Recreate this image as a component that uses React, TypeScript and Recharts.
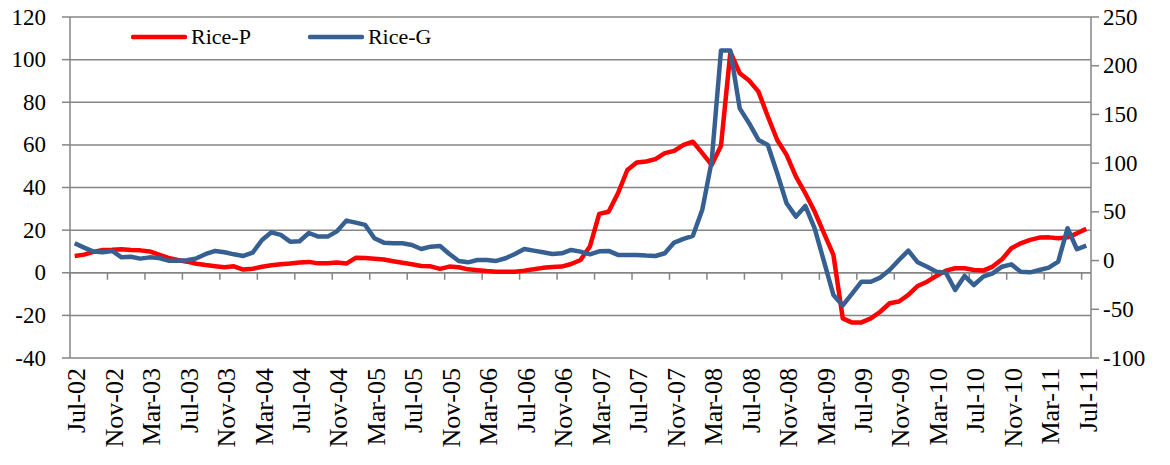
import React from "react";
import {
  LineChart,
  Line,
  XAxis,
  YAxis,
  CartesianGrid,
  Legend,
  ReferenceLine,
} from "recharts";

const MONTH_NAMES = ["Jan", "Feb", "Mar", "Apr", "May", "Jun", "Jul", "Aug", "Sep", "Oct", "Nov", "Dec"];

// Monthly categories Jul-02 .. Jul-11
const months: string[] = [];
for (let k = 0; k < 109; k++) {
  const m = (6 + k) % 12;
  const y = 2002 + Math.floor((6 + k) / 12);
  months.push(`${MONTH_NAMES[m]}-${String(y % 100).padStart(2, "0")}`);
}

const ricePValues = [
  7.9, 8.5, 9.8, 10.7, 10.8, 11.0, 10.7, 10.5, 10.0, 8.5, 7.0, 6.0, 5.2, 4.2, 3.6, 3.1,
  2.6, 3.0, 1.5, 1.9, 2.8, 3.5, 4.0, 4.3, 4.8, 5.1, 4.4, 4.5, 4.8, 4.3, 7.0, 6.9,
  6.6, 6.2, 5.4, 4.7, 4.0, 3.2, 3.0, 1.8, 2.9, 2.6, 1.6, 1.2, 0.8, 0.5, 0.5, 0.5,
  1.0, 1.6, 2.3, 2.7, 2.9, 4.1, 6.0, 12.3, 27.6, 28.6, 37.3, 48.2, 51.7, 52.2, 53.3, 56.1,
  57.2, 60.0, 61.5, 56.1, 50.6, 59.6, 103.6, 93.6, 90.2, 85.0, 73.3, 62.3, 55.3, 45.1, 37.3, 28.7,
  18.5, 8.4, -21.4, -23.4, -23.3, -21.4, -18.3, -14.3, -13.5, -10.4, -6.2, -4.2, -1.5, 1.0, 2.1, 2.1,
  1.3, 1.0, 2.9, 6.3, 11.5, 13.8, 15.4, 16.5, 16.6, 16.2, 16.6, 18.5, 20.6,
];

const riceGValues = [
  17.8, 13.3, 9.2, 8.5, 9.9, 3.3, 4.0, 2.0, 3.3, 2.6, -0.1, -0.1, 0.3, 2.3, 6.8, 9.9,
  8.5, 6.4, 4.7, 8.1, 21.1, 29.0, 26.3, 19.4, 19.8, 28.3, 24.6, 24.6, 30.0, 41.0, 38.9, 36.6,
  22.9, 18.4, 17.7, 17.7, 16.0, 11.9, 14.3, 15.0, 6.8, -0.4, -1.8, 0.6, 0.6, -0.4, 2.4, 6.8,
  11.9, 10.2, 8.5, 6.8, 7.5, 10.9, 9.2, 6.4, 9.5, 9.9, 5.8, 5.8, 5.8, 5.1, 4.7, 7.5,
  18.5, 22.3, 25.4, 52.1, 101.5, 215.5, 215.5, 156.2, 141.0, 123.8, 118.7, 89.6, 58.8, 45.1, 56.1, 33.1,
  -1.1, -35.3, -46.0, -34.0, -21.7, -21.7, -17.5, -9.7, 0.6, 10.2, -1.8, -6.3, -11.4, -12.4, -30.2, -15.8,
  -25.1, -16.5, -13.1, -6.3, -3.9, -11.4, -12.1, -9.7, -7.3, -1.1, 33.2, 11.6, 15.3,
];

const leftTicks = [-40, -20, 0, 20, 40, 60, 80, 100, 120];
const rightTicks = [-100, -50, 0, 50, 100, 150, 200, 250];

const data = months.map((month, i) => ({
  month,
  riceP: ricePValues[i],
  riceG: riceGValues[i],
}));

const FONT = "'Liberation Serif', 'Times New Roman', serif";
const AXIS_GRAY = "#868686";
const RED = "#FF0000";
const BLUE = "#376092";

const XTick = (props: any) => {
  const { x, y, payload } = props;
  return (
    <text
      x={0}
      y={0}
      transform={`translate(${x + 2},${y + 2}) rotate(-90)`}
      textAnchor="end"
      dominantBaseline="central"
      style={{ fontFamily: FONT, fontSize: 26 }}
      fill="#000"
    >
      {payload.value}
    </text>
  );
};

const LeftTick = (props: any) => {
  const { x, y, payload } = props;
  return (
    <text x={x} y={y} textAnchor="end" dominantBaseline="central" style={{ fontFamily: FONT, fontSize: 23 }} fill="#000">
      {payload.value}
    </text>
  );
};

const RightTick = (props: any) => {
  const { x, y, payload } = props;
  return (
    <text x={x} y={y} textAnchor="start" dominantBaseline="central" style={{ fontFamily: FONT, fontSize: 23 }} fill="#000">
      {payload.value}
    </text>
  );
};

// Zero line with category-axis tick marks every 4 months (between categories)
const ZeroAxisShape = (props: any) => {
  const { x1, y1, x2 } = props;
  const n = months.length;
  const step = (x2 - x1) / n;
  const marks = [];
  for (let k = 0; k <= n; k += 4) {
    const xx = x1 + k * step;
    marks.push(<line key={k} x1={xx} x2={xx} y1={y1} y2={y1 + 7} stroke={AXIS_GRAY} strokeWidth={1.5} />);
  }
  return (
    <g>
      <line x1={x1} x2={x2} y1={y1} y2={y1} stroke={AXIS_GRAY} strokeWidth={1.5} />
      {marks}
    </g>
  );
};

const LegendContent = () => (
  <div style={{ display: "flex", alignItems: "center", fontFamily: FONT, fontSize: 22, color: "#000" }}>
    {[
      { name: "Rice-P", color: RED },
      { name: "Rice-G", color: BLUE },
    ].map((it, idx) => (
      <div key={it.name} style={{ display: "flex", alignItems: "center", marginRight: idx === 0 ? 57 : 0 }}>
        <svg width={56} height={10} style={{ marginRight: 4 }}>
          <line x1={2} x2={54} y1={5} y2={5} stroke={it.color} strokeWidth={4.5} strokeLinecap="round" />
        </svg>
        <span style={{ lineHeight: "24px" }}>{it.name}</span>
      </div>
    ))}
  </div>
);

export default function App() {
  return (
    <div style={{ position: "absolute", left: 0, top: 0 }}>
      <LineChart
        width={1170}
        height={465}
        data={data}
        margin={{ top: 17, right: 0, bottom: 0, left: 0 }}
      >
        <CartesianGrid vertical={false} stroke={AXIS_GRAY} strokeWidth={1.5} yAxisId="left" />
        <XAxis
          dataKey="month"
          interval={3}
          tickLine={false}
          axisLine={false}
          height={107}
          padding={{ left: 4.7, right: 4.7 }}
          tick={<XTick />}
        />
        <YAxis
          yAxisId="left"
          domain={[-40, 120]}
          ticks={leftTicks}
          width={70}
          tickSize={8}
          tickMargin={16}
          tickLine={{ stroke: AXIS_GRAY, strokeWidth: 1.5 }}
          axisLine={{ stroke: AXIS_GRAY, strokeWidth: 1.5 }}
          tick={<LeftTick />}
          allowDataOverflow
        />
        <YAxis
          yAxisId="right"
          orientation="right"
          domain={[-100, 250]}
          ticks={rightTicks}
          width={79}
          tickSize={8}
          tickMargin={4}
          tickLine={{ stroke: AXIS_GRAY, strokeWidth: 1.5 }}
          axisLine={{ stroke: AXIS_GRAY, strokeWidth: 1.5 }}
          tick={<RightTick />}
          allowDataOverflow
        />
        <ReferenceLine yAxisId="left" y={0} shape={<ZeroAxisShape />} />
        <Legend
          verticalAlign="middle"
          align="center"
          layout="horizontal"
          content={<LegendContent />}
          wrapperStyle={{ top: 25, left: 131, width: 400, height: 26 }}
        />
        <Line
          yAxisId="left"
          type="linear"
          dataKey="riceP"
          name="Rice-P"
          stroke={RED}
          strokeWidth={4.5}
          dot={false}
          activeDot={false}
          strokeLinejoin="round"
          isAnimationActive={false}
        />
        <Line
          yAxisId="right"
          type="linear"
          dataKey="riceG"
          name="Rice-G"
          stroke={BLUE}
          strokeWidth={4.5}
          dot={false}
          activeDot={false}
          strokeLinejoin="round"
          isAnimationActive={false}
        />
      </LineChart>
    </div>
  );
}
